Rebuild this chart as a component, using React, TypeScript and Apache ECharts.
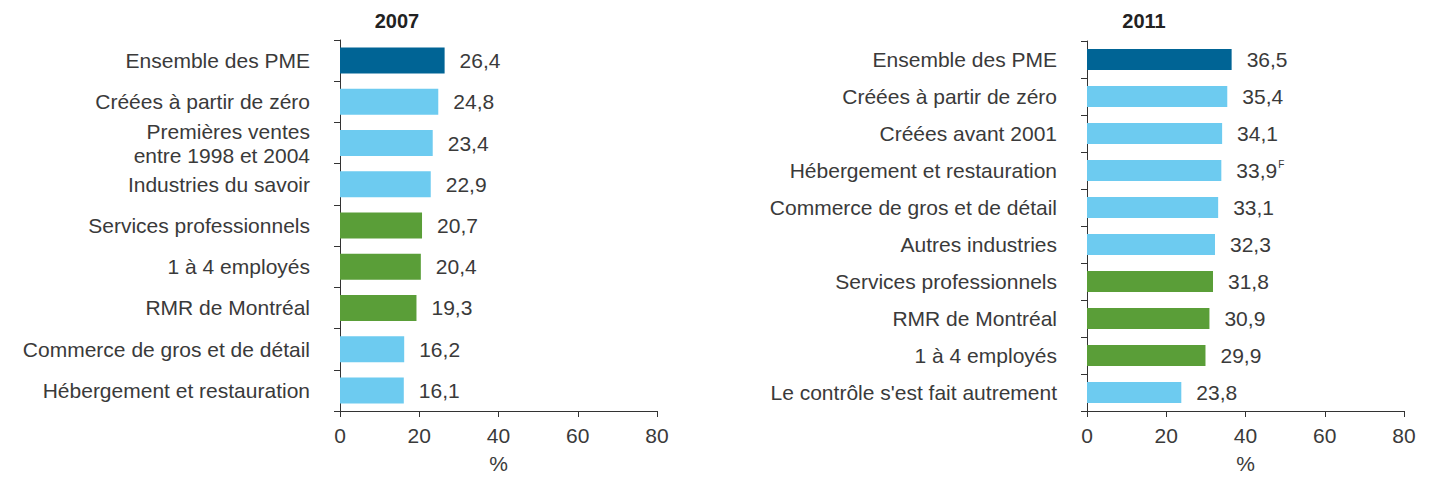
import React, { useEffect, useRef } from "react";
import * as echarts from "echarts";

const titles = ["2007", "2011"];

const categories2007 = [
  "Ensemble des PME",
  "Créées à partir de zéro",
  "Premières ventes\nentre 1998 et 2004",
  "Industries du savoir",
  "Services professionnels",
  "1 à 4 employés",
  "RMR de Montréal",
  "Commerce de gros et de détail",
  "Hébergement et restauration",
];
const values2007 = [26.4, 24.8, 23.4, 22.9, 20.7, 20.4, 19.3, 16.2, 16.1];
const groups2007 = ["all", "light", "light", "light", "green", "green", "green", "light", "light"];

const categories2011 = [
  "Ensemble des PME",
  "Créées à partir de zéro",
  "Créées avant 2001",
  "Hébergement et restauration",
  "Commerce de gros et de détail",
  "Autres industries",
  "Services professionnels",
  "RMR de Montréal",
  "1 à 4 employés",
  "Le contrôle s'est fait autrement",
];
const values2011 = [36.5, 35.4, 34.1, 33.9, 33.1, 32.3, 31.8, 30.9, 29.9, 23.8];
const groups2011 = ["all", "light", "light", "light", "light", "light", "green", "green", "green", "light"];
const flags2011 = ["", "", "", "F", "", "", "", "", "", ""];

const xTicks = [0, 20, 40, 60, 80];
const xAxisName = "%";

const COLORS: Record<string, string> = {
  all: "#006495",
  light: "#6DCBF0",
  green: "#5A9E38",
};

const FONT = "'Liberation Sans', Arial, sans-serif";
const TEXT = "#3a3a3a";
const FS = 21;

function fmt(v: number) {
  return v.toFixed(1).replace(".", ",");
}

export default function App() {
  const ref = useRef<HTMLDivElement>(null);

  useEffect(() => {
    if (!ref.current) return;
    const chart = echarts.init(ref.current, undefined, { renderer: "svg" });

    const makeX = (gridIndex: number) => ({
      type: "value" as const,
      gridIndex,
      min: xTicks[0],
      max: xTicks[xTicks.length - 1],
      interval: 20,
      name: xAxisName,
      nameLocation: "middle" as const,
      nameGap: 42,
      nameTextStyle: { color: TEXT, fontSize: FS, fontFamily: FONT },
      axisLine: { show: true, lineStyle: { color: "#333", width: 1 } },
      axisTick: { show: true, length: 6, lineStyle: { color: "#333" } },
      axisLabel: { color: TEXT, fontSize: FS, fontFamily: FONT, margin: 14 },
      splitLine: { show: false },
    });

    const makeY = (gridIndex: number, cats: string[]) => ({
      type: "category" as const,
      gridIndex,
      data: cats,
      inverse: true,
      axisLine: { show: true, lineStyle: { color: "#333", width: 1 } },
      axisTick: { show: true, length: 6, lineStyle: { color: "#333" } },
      axisLabel: {
        color: TEXT,
        fontSize: FS,
        fontFamily: FONT,
        margin: 30,
        lineHeight: 24,
      },
    });

    const makeData = (vals: number[], groups: string[], flags?: string[]) =>
      vals.map((v, i) => ({
        value: v,
        itemStyle: { color: COLORS[groups[i]] },
        label: {
          formatter: flags && flags[i] ? `${fmt(v)}{sup|${flags[i]}}` : fmt(v),
        },
      }));

    const labelBase = {
      show: true,
      position: "right" as const,
      distance: 15,
      color: TEXT,
      fontSize: FS,
      fontFamily: FONT,
      rich: {
        sup: { fontSize: 10, verticalAlign: "top" as const, color: TEXT, padding: [0, 0, 12, 1], fontFamily: FONT },
      },
    };

    chart.setOption({
      animation: false,
      backgroundColor: "#ffffff",
      title: [
        {
          text: titles[0],
          left: 392,
          top: 6,
          textAlign: "center",
          textStyle: { fontSize: 20, fontWeight: "bold", color: "#222", fontFamily: FONT },
        },
        {
          text: titles[1],
          left: 1139,
          top: 6,
          textAlign: "center",
          textStyle: { fontSize: 20, fontWeight: "bold", color: "#222", fontFamily: FONT },
        },
      ],
      grid: [
        { left: 340, width: 317, top: 40, height: 373, containLabel: false },
        { left: 1087, width: 317, top: 41, height: 372, containLabel: false },
      ],
      xAxis: [makeX(0), makeX(1)],
      yAxis: [makeY(0, categories2007), makeY(1, categories2011)],
      series: [
        {
          type: "bar",
          xAxisIndex: 0,
          yAxisIndex: 0,
          barWidth: 26,
          data: makeData(values2007, groups2007),
          label: labelBase,
        },
        {
          type: "bar",
          xAxisIndex: 1,
          yAxisIndex: 1,
          barWidth: 21,
          data: makeData(values2011, groups2011, flags2011),
          label: labelBase,
        },
      ],
    });

    return () => chart.dispose();
  }, []);

  return (
    <div
      ref={ref}
      style={{ position: "absolute", left: 0, top: 0, width: 1429, height: 479 }}
    />
  );
}
